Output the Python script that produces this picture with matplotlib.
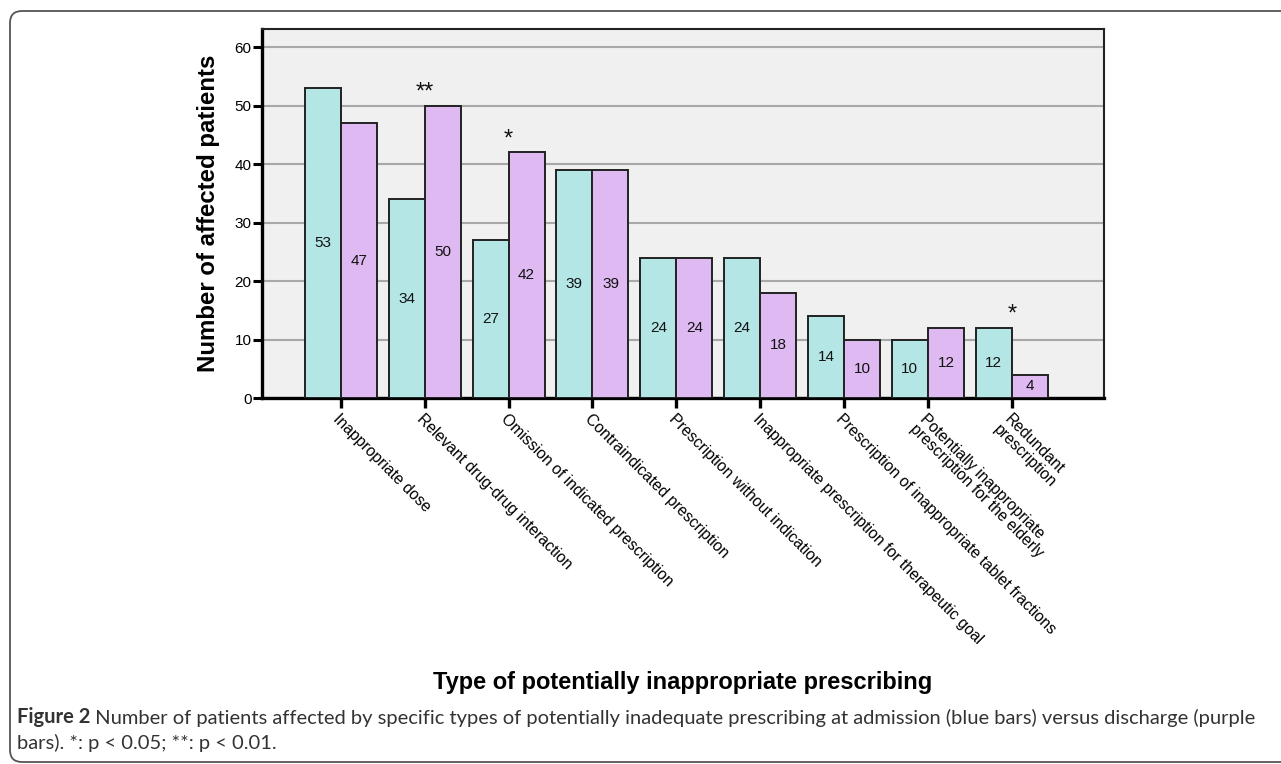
import numpy as np
import matplotlib
matplotlib.use('Agg')
import matplotlib.pyplot as plt
from matplotlib.patches import FancyBboxPatch

categories = [
    'Inappropriate dose',
    'Relevant drug-drug interaction',
    'Omission of indicated prescription',
    'Contraindicated prescription',
    'Prescription without indication',
    'Inappropriate prescription for therapeutic goal',
    'Prescription of inappropriate tablet fractions',
    'Potentially inappropriate\nprescription for the elderly',
    'Redundant\nprescription',
]
admission = [53, 34, 27, 39, 24, 24, 14, 10, 12]
discharge = [47, 50, 42, 39, 24, 18, 10, 12, 4]
significance = ['', '**', '*', '', '', '', '', '', '*']

teal = '#b4e6e6'
purple = '#dfbaf2'

plt.rcParams['font.family'] = ['Liberation Sans', 'DejaVu Sans']

W, H = 1281, 764
fig = plt.figure(figsize=(W / 100, H / 100), dpi=100)

# rounded frame around figure + caption
frame = FancyBboxPatch((0.10, 0.02), 13.0, 7.51,
                       boxstyle='round,pad=0,rounding_size=0.12',
                       transform=fig.dpi_scale_trans, fill=False,
                       edgecolor='#555555', linewidth=1.3, clip_on=False)
fig.add_artist(frame)

left, right, top, bottom = 262, 1104, 29, 398
ax = fig.add_axes([left / W, 1 - bottom / H, (right - left) / W, (bottom - top) / H])
ax.set_facecolor('#f0f0f0')

x = np.arange(len(categories))
w = 0.43
b1 = ax.bar(x - w / 2, admission, w, color=teal, edgecolor='#222222', linewidth=1.4, zorder=3)
b2 = ax.bar(x + w / 2, discharge, w, color=purple, edgecolor='#222222', linewidth=1.4, zorder=3)

for bars, vals in [(b1, admission), (b2, discharge)]:
    for rect, v in zip(bars, vals):
        ax.text(rect.get_x() + rect.get_width() / 2, v / 2, str(v),
                ha='center', va='center', fontsize=11, color='#111111', zorder=4)

for i, s in enumerate(significance):
    if s:
        top_val = max(admission[i], discharge[i])
        ax.text(x[i], top_val + 1.2, s, ha='center', va='baseline',
                fontsize=17, color='#111111', zorder=4)

ax.set_xlim(-0.94, 9.1)
ax.set_ylim(0, 63.1)
ax.set_yticks(range(0, 61, 10))
ax.yaxis.grid(True, color='#a8a8a8', linewidth=1.5, zorder=1)
ax.set_axisbelow(True)

ax.set_xticks(x)
ax.set_xticklabels(categories, rotation=-45, ha='left', va='top',
                   rotation_mode='anchor', fontsize=11.3, linespacing=1.0)
ax.tick_params(axis='x', length=7.5, width=2.4, color='black', pad=2)
ax.tick_params(axis='y', length=6.5, width=2.2, color='black', labelsize=11, pad=1)
for lbl in ax.get_xticklabels():
    lbl.set_x(lbl.get_position()[0])

for side in ['left', 'bottom']:
    ax.spines[side].set_linewidth(2.4)
for side in ['top', 'right']:
    ax.spines[side].set_linewidth(1.5)
    ax.spines[side].set_color('#222222')

ax.set_ylabel('Number of affected patients', fontsize=17.3, fontweight='bold', va='center')
ax.yaxis.set_label_coords((208 - left) / (right - left), 0.5)
ax.set_xlabel('Type of potentially inappropriate prescribing', fontsize=17,
              fontweight='bold', va='center')
ax.xaxis.set_label_coords(0.5, (bottom - 683) / (bottom - top))

cap_font = ['Lato', 'DejaVu Sans']
cap_size = 14.5
t1 = fig.text(17 / W, 1 - 723 / H, 'Figure 2', fontsize=cap_size, fontweight='bold',
              color='#333333', family=cap_font, va='baseline')
ax.annotate(' Number of patients affected by specific types of potentially inadequate prescribing '
            'at admission (blue bars) versus discharge (purple',
            xy=(1, 0), xycoords=t1, va='bottom', ha='left',
            fontsize=cap_size, color='#333333', family=cap_font, annotation_clip=False)
fig.text(17 / W, 1 - 749 / H, 'bars). *: p < 0.05; **: p < 0.01.', fontsize=cap_size,
         color='#333333', family=cap_font, va='baseline')

fig.savefig('out.png', dpi=100)
